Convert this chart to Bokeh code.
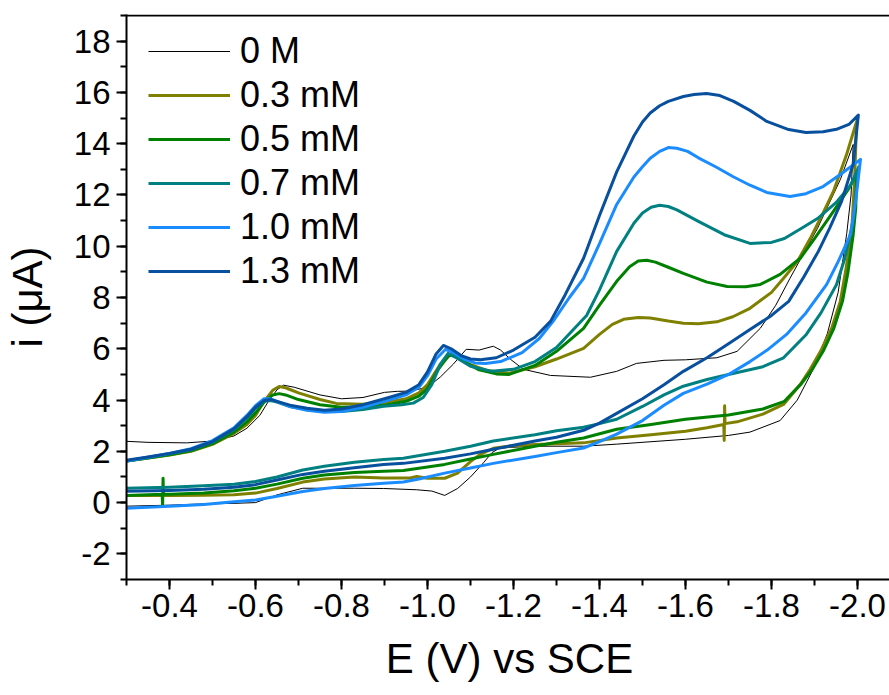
from bokeh.plotting import figure
from bokeh.models import Range1d, Span, SingleIntervalTicker, PrintfTickFormatter, Legend, LegendItem
from bokeh.embed import file_html
from bokeh.resources import INLINE

# ---- data: (E in V vs SCE, i in uA), forward scan then reverse scan ----
cv_0M = [(-0.30,2.39),(-0.35,2.35),(-0.44,2.33),(-0.50,2.4),(-0.55,2.6),(-0.58,2.9),(-0.61,3.4),(-0.63,3.95),(-0.65,4.4),(-0.665,4.58),(-0.69,4.5),(-0.75,4.2),(-0.80,4.05),(-0.85,4.1),(-0.90,4.3),(-0.93,4.34),(-0.96,4.35),(-1.00,4.5),(-1.03,4.9),(-1.06,5.4),(-1.09,5.98),(-1.12,5.95),(-1.153,6.1),(-1.17,5.95),(-1.193,5.59),(-1.223,5.2),(-1.286,4.96),(-1.379,4.89),(-1.44,5.12),(-1.486,5.43),(-1.55,5.55),(-1.60,5.57),(-1.673,5.65),(-1.72,5.9),(-1.774,6.8),(-1.81,7.7),(-1.843,8.75),(-1.907,10.7),(-1.96,12.6),(-1.99,13.97),
         (-1.985,12.0),(-1.975,10.5),(-1.955,8.2),(-1.93,6.6),(-1.90,5.3),(-1.86,4.0),(-1.82,3.2),(-1.75,2.75),(-1.70,2.62),(-1.60,2.47),(-1.44,2.28),(-1.363,2.2),(-1.25,2.2),(-1.19,2.15),(-1.167,2.12),(-1.15,1.95),(-1.13,1.55),(-1.10,1.0),(-1.07,0.55),(-1.04,0.28),(-1.01,0.45),(-0.975,0.5),(-0.898,0.55),(-0.83,0.56),(-0.71,0.56),(-0.65,0.3),(-0.60,0.0),(-0.55,-0.03),(-0.48,-0.05),(-0.40,-0.1),(-0.30,-0.14)]

cv_03mM = [(-0.30,1.62),(-0.35,1.74),(-0.40,1.86),(-0.45,2.0),(-0.50,2.27),(-0.55,2.7),(-0.58,3.05),(-0.60,3.4),(-0.62,3.95),(-0.64,4.38),(-0.655,4.53),(-0.67,4.48),(-0.70,4.28),(-0.75,4.02),(-0.788,3.87),(-0.85,3.84),(-0.90,3.9),(-0.95,4.05),(-0.98,4.28),(-1.00,4.6),(-1.03,5.4),(-1.055,5.8),(-1.075,5.62),(-1.10,5.38),(-1.14,5.15),(-1.19,5.05),(-1.25,5.3),(-1.30,5.6),(-1.363,6.02),(-1.40,6.56),(-1.43,6.95),(-1.456,7.15),(-1.49,7.22),(-1.518,7.2),(-1.56,7.08),(-1.595,7.0),(-1.63,6.98),(-1.673,7.05),(-1.71,7.25),(-1.75,7.58),(-1.80,8.2),(-1.828,8.75),(-1.86,9.4),(-1.89,10.3),(-1.92,11.3),(-1.944,12.14),(-1.975,13.6),(-1.998,14.87),
           (-1.993,12.5),(-1.986,10.46),(-1.972,9.0),(-1.96,7.85),(-1.94,6.8),(-1.914,5.9),(-1.89,5.2),(-1.867,4.61),(-1.828,3.83),(-1.78,3.45),(-1.72,3.15),(-1.692,3.08),(-1.691,3.78),(-1.690,2.42),(-1.689,3.05),(-1.65,2.92),(-1.60,2.78),(-1.52,2.65),(-1.44,2.52),(-1.363,2.33),(-1.30,2.3),(-1.25,2.27),(-1.20,2.22),(-1.153,2.12),(-1.12,1.85),(-1.10,1.6),(-1.07,1.15),(-1.04,0.95),(-1.0,0.95),(-0.975,1.02),(-0.96,0.96),(-0.898,0.96),(-0.83,1.0),(-0.76,0.92),(-0.71,0.8),(-0.65,0.55),(-0.60,0.37),(-0.55,0.31),(-0.48,0.29),(-0.40,0.28),(-0.30,0.28)]

cv_05mM = [(-0.30,1.62),(-0.35,1.74),(-0.40,1.87),(-0.45,2.02),(-0.50,2.3),(-0.55,2.75),(-0.58,3.15),(-0.60,3.5),(-0.62,3.92),(-0.64,4.2),(-0.655,4.25),(-0.67,4.2),(-0.70,4.02),(-0.75,3.82),(-0.80,3.72),(-0.85,3.74),(-0.90,3.8),(-0.95,3.95),(-0.98,4.15),(-1.00,4.45),(-1.025,5.2),(-1.05,5.75),(-1.065,5.72),(-1.09,5.45),(-1.12,5.18),(-1.16,5.02),(-1.19,5.0),(-1.25,5.35),(-1.30,5.9),(-1.363,6.8),(-1.40,7.7),(-1.44,8.63),(-1.47,9.2),(-1.49,9.42),(-1.51,9.45),(-1.53,9.38),(-1.56,9.18),(-1.595,8.94),(-1.65,8.6),(-1.697,8.43),(-1.74,8.42),(-1.774,8.51),(-1.82,8.9),(-1.867,9.53),(-1.90,10.3),(-1.944,11.36),(-1.98,12.26),(-1.998,12.84),
           (-1.996,11.5),(-1.99,10.46),(-1.978,9.0),(-1.965,7.85),(-1.945,6.8),(-1.92,5.9),(-1.895,5.2),(-1.87,4.65),(-1.83,3.95),(-1.78,3.65),(-1.70,3.42),(-1.60,3.25),(-1.52,3.05),(-1.44,2.86),(-1.363,2.52),(-1.30,2.35),(-1.25,2.2),(-1.153,1.88),(-1.10,1.7),(-1.04,1.49),(-0.944,1.25),(-0.898,1.22),(-0.83,1.17),(-0.76,1.08),(-0.71,0.95),(-0.65,0.72),(-0.60,0.56),(-0.55,0.46),(-0.48,0.37),(-0.40,0.33),(-0.386,0.33),(-0.385,0.95),(-0.384,-0.15),(-0.383,0.33),(-0.30,0.28)]

cv_07mM = [(-0.30,1.62),(-0.35,1.76),(-0.40,1.9),(-0.45,2.06),(-0.50,2.36),(-0.55,2.85),(-0.58,3.3),(-0.60,3.68),(-0.62,3.95),(-0.635,3.98),(-0.65,3.92),(-0.68,3.75),(-0.72,3.62),(-0.76,3.55),(-0.80,3.55),(-0.85,3.63),(-0.898,3.76),(-0.94,3.82),(-0.967,3.88),(-0.99,4.1),(-1.01,4.6),(-1.03,5.4),(-1.048,5.82),(-1.07,5.62),(-1.10,5.32),(-1.15,5.12),(-1.20,5.2),(-1.25,5.5),(-1.30,6.05),(-1.37,7.3),(-1.40,8.3),(-1.44,9.8),(-1.48,10.9),(-1.50,11.3),(-1.52,11.52),(-1.54,11.6),(-1.56,11.55),(-1.58,11.42),(-1.63,10.97),(-1.69,10.45),(-1.75,10.11),(-1.80,10.15),(-1.83,10.3),(-1.87,10.7),(-1.907,11.08),(-1.95,11.7),(-1.985,12.4),(-2.003,13.1),
           (-1.99,11.0),(-1.97,9.5),(-1.951,8.5),(-1.915,7.4),(-1.881,6.56),(-1.828,5.65),(-1.78,5.3),(-1.70,5.0),(-1.65,4.8),(-1.595,4.54),(-1.55,4.2),(-1.50,3.75),(-1.44,3.25),(-1.40,3.08),(-1.363,2.94),(-1.30,2.8),(-1.25,2.65),(-1.153,2.4),(-1.10,2.2),(-1.04,2.0),(-0.944,1.73),(-0.898,1.68),(-0.83,1.57),(-0.76,1.42),(-0.71,1.27),(-0.65,1.0),(-0.60,0.82),(-0.55,0.72),(-0.48,0.66),(-0.40,0.6),(-0.30,0.56)]

cv_10mM = [(-0.30,1.62),(-0.35,1.77),(-0.40,1.92),(-0.45,2.1),(-0.50,2.42),(-0.55,2.92),(-0.58,3.4),(-0.60,3.78),(-0.62,4.05),(-0.635,4.05),(-0.65,3.95),(-0.68,3.75),(-0.72,3.6),(-0.76,3.52),(-0.80,3.55),(-0.85,3.72),(-0.90,3.95),(-0.95,4.2),(-0.98,4.5),(-1.00,4.95),(-1.02,5.6),(-1.042,5.98),(-1.06,5.85),(-1.085,5.6),(-1.11,5.45),(-1.135,5.43),(-1.17,5.5),(-1.22,5.85),(-1.26,6.4),(-1.292,7.07),(-1.33,8.0),(-1.363,8.75),(-1.40,10.1),(-1.44,11.63),(-1.48,12.7),(-1.50,13.1),(-1.518,13.43),(-1.54,13.7),(-1.56,13.85),(-1.58,13.82),(-1.605,13.7),(-1.63,13.45),(-1.67,13.1),(-1.71,12.72),(-1.75,12.38),(-1.789,12.1),(-1.843,11.94),(-1.88,12.05),(-1.92,12.33),(-1.96,12.8),(-2.007,13.39),
           (-1.996,11.8),(-1.984,10.46),(-1.955,9.4),(-1.928,8.5),(-1.88,7.4),(-1.835,6.56),(-1.79,5.95),(-1.75,5.5),(-1.70,5.0),(-1.65,4.62),(-1.595,4.26),(-1.55,3.8),(-1.50,3.2),(-1.44,2.67),(-1.40,2.38),(-1.363,2.13),(-1.30,1.95),(-1.25,1.8),(-1.153,1.53),(-1.10,1.35),(-1.04,1.15),(-0.98,0.92),(-0.944,0.8),(-0.898,0.75),(-0.83,0.67),(-0.76,0.55),(-0.71,0.43),(-0.65,0.25),(-0.60,0.1),(-0.55,0.03),(-0.48,-0.07),(-0.40,-0.14),(-0.30,-0.22)]

cv_13mM = [(-0.30,1.65),(-0.35,1.78),(-0.40,1.92),(-0.45,2.08),(-0.50,2.38),(-0.55,2.88),(-0.58,3.35),(-0.60,3.72),(-0.62,3.98),(-0.635,4.02),(-0.65,3.95),(-0.68,3.8),(-0.72,3.68),(-0.76,3.6),(-0.80,3.65),(-0.85,3.82),(-0.90,4.05),(-0.95,4.3),(-0.98,4.6),(-1.00,5.1),(-1.02,5.8),(-1.037,6.13),(-1.055,6.0),(-1.08,5.72),(-1.10,5.6),(-1.123,5.57),(-1.16,5.65),(-1.20,5.95),(-1.25,6.45),(-1.286,7.07),(-1.32,8.1),(-1.363,9.53),(-1.40,11.2),(-1.44,12.9),(-1.48,14.3),(-1.50,14.85),(-1.518,15.2),(-1.54,15.48),(-1.56,15.65),(-1.595,15.84),(-1.62,15.92),(-1.649,15.96),(-1.68,15.88),(-1.712,15.65),(-1.75,15.3),(-1.789,14.87),(-1.84,14.55),(-1.88,14.44),(-1.92,14.47),(-1.951,14.56),(-1.98,14.75),(-2.002,15.12),
           (-1.99,13.2),(-1.963,11.75),(-1.935,10.7),(-1.909,9.8),(-1.875,8.8),(-1.84,7.85),(-1.80,7.3),(-1.75,6.75),(-1.70,6.2),(-1.65,5.65),(-1.595,5.12),(-1.55,4.6),(-1.50,4.05),(-1.44,3.48),(-1.40,3.1),(-1.363,2.82),(-1.30,2.55),(-1.25,2.4),(-1.153,2.08),(-1.10,1.9),(-1.04,1.73),(-0.944,1.53),(-0.898,1.49),(-0.83,1.36),(-0.76,1.22),(-0.71,1.1),(-0.65,0.88),(-0.60,0.7),(-0.55,0.6),(-0.48,0.52),(-0.40,0.47),(-0.30,0.44)]

series_labels = ["0 M", "0.3 mM", "0.5 mM", "0.7 mM", "1.0 mM", "1.3 mM"]
series_data = [cv_0M, cv_03mM, cv_05mM, cv_07mM, cv_10mM, cv_13mM]
colors = ["#000000", "#808000", "#008000", "#008080", "#1a8cff", "#08509e"]
widths = [1, 3, 3, 3, 3, 3]

x_ticks_interval = 0.2
y_ticks_interval = 2
y_top = 19

FONT = "Liberation Sans"

p = figure(frame_width=766, frame_height=565, output_backend="svg", toolbar_location=None,
           x_range=Range1d(-0.3, -2.0814), y_range=Range1d(-3, 19.04),
           min_border_left=123, min_border_right=0, min_border_top=14, min_border_bottom=115,
           background_fill_color="white", border_fill_color="white")
p.outline_line_color = None
p.grid.visible = False

renderers = []
for data, col, w in zip(series_data, colors, widths):
    xs = [d[0] for d in data]
    ys = [d[1] for d in data]
    r = p.line(xs, ys, line_color=col, line_width=w, line_join="round")
    renderers.append(r)

for ax in (p.xaxis[0], p.yaxis[0]):
    ax.axis_line_width = 2
    ax.major_tick_line_width = 2
    ax.minor_tick_line_width = 2
    ax.major_tick_out = 10
    ax.major_tick_in = 0
    ax.minor_tick_out = 6
    ax.minor_tick_in = 0
    ax.major_label_text_font = FONT
    ax.major_label_text_font_size = "33px"
    ax.major_label_text_color = "black"
    ax.axis_label_text_font = FONT
    ax.axis_label_text_font_size = "42px"
    ax.axis_label_text_font_style = "normal"
    ax.axis_label_text_color = "black"

p.xaxis[0].ticker = SingleIntervalTicker(interval=x_ticks_interval, num_minor_ticks=2)
p.xaxis[0].formatter = PrintfTickFormatter(format="%.1f")
p.xaxis[0].axis_label = "E (V) vs SCE"
p.xaxis[0].major_label_standoff = 4
p.xaxis[0].axis_label_standoff = 15

p.yaxis[0].ticker = SingleIntervalTicker(interval=y_ticks_interval, num_minor_ticks=2)
p.yaxis[0].formatter = PrintfTickFormatter(format="%d")
p.yaxis[0].axis_label = "i (μA)"
p.yaxis[0].major_label_standoff = 6
p.yaxis[0].axis_label_standoff = 20

# top frame line
p.add_layout(Span(location=y_top, dimension="width", line_color="black", line_width=2))

items = [LegendItem(label=lab, renderers=[r]) for lab, r in zip(series_labels, renderers)]
legend = Legend(items=items, location=(22, 286), glyph_width=82, glyph_height=44,
                label_height=44, spacing=0, padding=0, margin=0, label_standoff=10,
                label_text_font=FONT, label_text_font_size="36px", label_text_color="black",
                background_fill_alpha=0, border_line_color=None)
p.add_layout(legend)

open("out.html", "w").write(file_html(p, INLINE))
